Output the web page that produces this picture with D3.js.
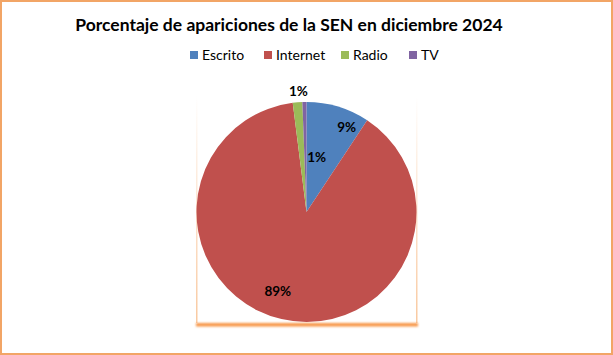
<!DOCTYPE html>
<html><head><meta charset="utf-8">
<script src="https://cdn.jsdelivr.net/npm/d3@7"></script>
<style>
html,body{margin:0;padding:0;background:#fff;}
svg{display:block;}
</style></head>
<body>
<script>
const categories = ["Escrito", "Internet", "Radio", "TV"];
const values = [9.3, 88.7, 1.4, 0.6];
const labels = ["9%", "89%", "1%", "1%"];
const colors = ["#4F81BD", "#C0504D", "#9BBB59", "#8064A2"];
const title = "Porcentaje de apariciones de la SEN en diciembre 2024";

const W = 613, H = 355;
const svg = d3.select("body").append("svg").attr("width", W).attr("height", H);
const defs = svg.append("defs");
const g1 = defs.append("linearGradient").attr("id","sideGrad").attr("x1",0).attr("y1",0).attr("x2",0).attr("y2",1);
g1.append("stop").attr("offset","0%").attr("stop-color","#F9C9A0").attr("stop-opacity",0);
g1.append("stop").attr("offset","100%").attr("stop-color","#F9C9A0").attr("stop-opacity",1);
const blur = defs.append("filter").attr("id","blur").attr("x","-10%").attr("y","-100%").attr("width","120%").attr("height","300%");
blur.append("feGaussianBlur").attr("stdDeviation",1.2);

// outer border
svg.append("rect").attr("x",1).attr("y",1).attr("width",W-2).attr("height",H-2)
  .attr("fill","#fff").attr("stroke","#F2A566").attr("stroke-width",2);

// title
svg.append("text").attr("x",289).attr("y",31).attr("text-anchor","middle")
  .attr("font-family","Lato, 'Open Sans', sans-serif").attr("font-weight","bold")
  .attr("font-size",17.5).attr("fill","#000").text(title);

// legend
const legX = [190, 264, 341, 409];
const leg = svg.append("g");
categories.forEach((c,i)=>{
  leg.append("rect").attr("x",legX[i]).attr("y",51).attr("width",8).attr("height",8).attr("fill",colors[i]);
  leg.append("text").attr("x",legX[i]+12).attr("y",60).attr("font-family","Lato, 'Open Sans', sans-serif")
    .attr("font-size",14).attr("fill","#000").text(c);
});

// plot area shadow
const px0 = 196, px1 = 416, py0 = 96, py1 = 323;
svg.append("rect").attr("x",px0).attr("y",py0).attr("width",1.5).attr("height",py1-py0).attr("fill","url(#sideGrad)");
svg.append("rect").attr("x",px1).attr("y",py0).attr("width",1.5).attr("height",py1-py0).attr("fill","url(#sideGrad)");
svg.append("rect").attr("x",px0).attr("y",py1).attr("width",px1-px0+2).attr("height",3.5)
  .attr("fill","#F79646").attr("filter","url(#blur)");

// pie
const cx = 306.5, cy = 212, R = 110;
const pie = d3.pie().sort(null).value(d=>d)(values);
const arc = d3.arc().innerRadius(0).outerRadius(R);
const gp = svg.append("g").attr("transform",`translate(${cx},${cy})`);
gp.selectAll("path").data(pie).join("path").attr("d",arc).attr("fill",(d,i)=>colors[i]);

// labels (best-fit style placement)
const labelRadius = [94, 84, 121, 56];
const angleShift = [0.15, 0.12, 0.015, 0.2];
pie.forEach((d,i)=>{
  const a = (d.startAngle + d.endAngle)/2 + angleShift[i];
  const x = Math.sin(a)*labelRadius[i], y = -Math.cos(a)*labelRadius[i];
  gp.append("text").attr("x",x).attr("y",y).attr("dy","0.35em").attr("text-anchor","middle")
    .attr("font-family","Lato, 'Open Sans', sans-serif").attr("font-weight","bold")
    .attr("font-size",13.5).attr("fill","#000").text(labels[i]);
});
</script>
</body></html>
